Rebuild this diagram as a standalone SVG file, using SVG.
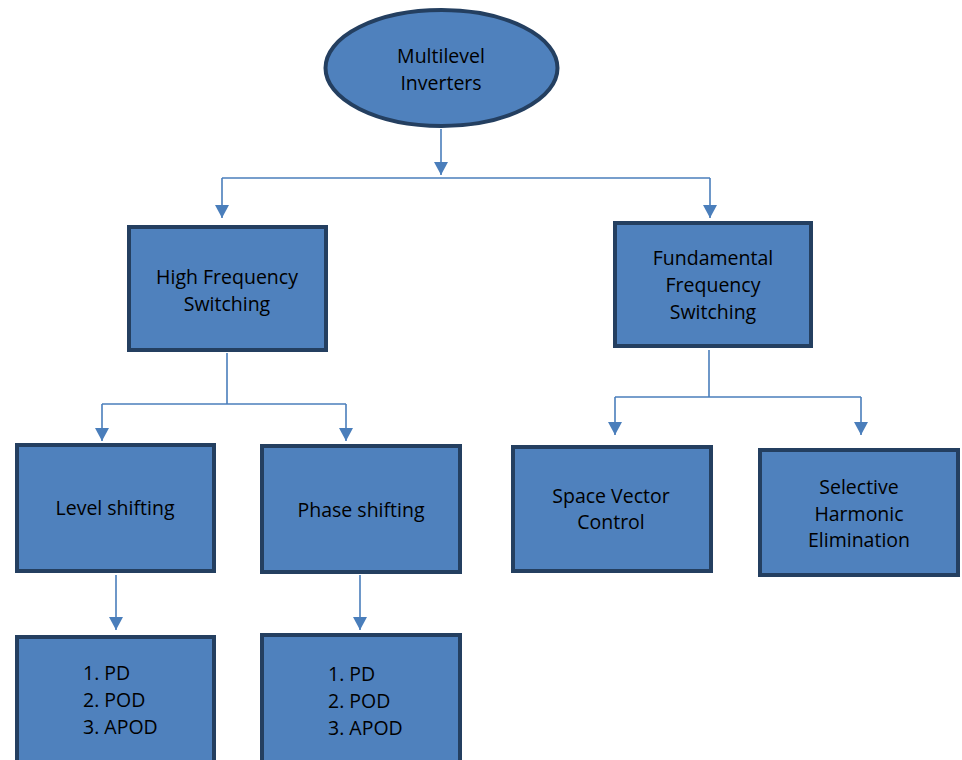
<svg xmlns="http://www.w3.org/2000/svg" width="962" height="760" viewBox="0 0 962 760">
<style>
.node{fill:#4F81BD;stroke:#243F60;stroke-width:4}
.t{font-family:"Open Sans","Liberation Sans",Arial,sans-serif;font-size:19.5px;fill:#000;text-anchor:middle}
.tl{font-family:"Open Sans","Liberation Sans",Arial,sans-serif;font-size:19.5px;fill:#000}
.c{fill:none;stroke:#4A7EBB;stroke-width:1.6}
</style>
<defs>
<marker id="ah" markerUnits="userSpaceOnUse" markerWidth="14" markerHeight="14" refX="13" refY="7" orient="auto">
<path d="M0,0 L13,7 L0,14 Z" fill="#4A7EBB"/>
</marker>
</defs>
<rect width="962" height="760" fill="#fff"/>
<g id="connectors">
<path class="c" d="M441,129 V175" marker-end="url(#ah)"/>
<path class="c" d="M222,178 H710"/>
<path class="c" d="M222,178 V218" marker-end="url(#ah)"/>
<path class="c" d="M710,178 V218" marker-end="url(#ah)"/>
<path class="c" d="M227,353 V404"/>
<path class="c" d="M102,404 H346"/>
<path class="c" d="M102,404 V441" marker-end="url(#ah)"/>
<path class="c" d="M346,404 V441" marker-end="url(#ah)"/>
<path class="c" d="M709,350 V397"/>
<path class="c" d="M615,397 H861"/>
<path class="c" d="M615,397 V435" marker-end="url(#ah)"/>
<path class="c" d="M861,397 V435" marker-end="url(#ah)"/>
<path class="c" d="M116,575 V630" marker-end="url(#ah)"/>
<path class="c" d="M360,575 V630" marker-end="url(#ah)"/>
</g>
<g id="n-root">
<ellipse class="node" cx="441.5" cy="68" rx="116" ry="58"/>
<text class="t" x="441" y="63">Multilevel</text>
<text class="t" x="441" y="90">Inverters</text>
</g>
<g id="n-hfs">
<rect class="node" x="129" y="227" width="197" height="123"/>
<text class="t" x="227" y="284">High Frequency</text>
<text class="t" x="227" y="311">Switching</text>
</g>
<g id="n-ffs">
<rect class="node" x="615" y="223" width="196" height="123"/>
<text class="t" x="713" y="265">Fundamental</text>
<text class="t" x="713" y="292">Frequency</text>
<text class="t" x="713" y="319">Switching</text>
</g>
<g id="n-level">
<rect class="node" x="17" y="445" width="197" height="126"/>
<text class="t" x="115" y="515">Level shifting</text>
</g>
<g id="n-phase">
<rect class="node" x="262" y="446" width="198" height="126"/>
<text class="t" x="361" y="517">Phase shifting</text>
</g>
<g id="n-svc">
<rect class="node" x="513" y="447" width="198" height="124"/>
<text class="t" x="611" y="503">Space Vector</text>
<text class="t" x="611" y="529">Control</text>
</g>
<g id="n-she">
<rect class="node" x="760" y="450" width="198" height="125"/>
<text class="t" x="859" y="494">Selective</text>
<text class="t" x="859" y="521">Harmonic</text>
<text class="t" x="859" y="547">Elimination</text>
</g>
<g id="n-list1">
<rect class="node" x="17" y="637" width="197" height="140"/>
<text class="tl" x="83" y="680">1. PD</text>
<text class="tl" x="83" y="707">2. POD</text>
<text class="tl" x="83" y="734">3. APOD</text>
</g>
<g id="n-list2">
<rect class="node" x="262" y="635" width="198" height="140"/>
<text class="tl" x="328" y="681">1. PD</text>
<text class="tl" x="328" y="708">2. POD</text>
<text class="tl" x="328" y="735">3. APOD</text>
</g>
</svg>
